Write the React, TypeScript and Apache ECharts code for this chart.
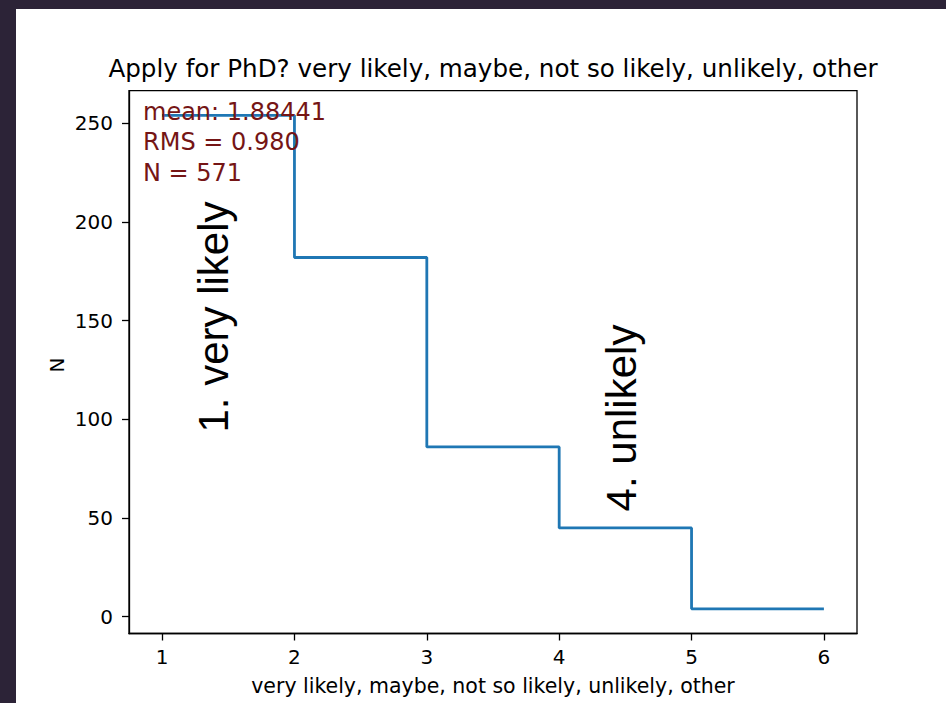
import React, { useEffect, useRef } from "react";
import * as echarts from "echarts";

const binCenters = [1, 2, 3, 4, 5, 6];
const counts = [254, 182, 86, 45, 4, 4];
const xTicks = [1, 2, 3, 4, 5, 6];
const yTicks = [0, 50, 100, 150, 200, 250];
const statLines = ["mean: 1.88441", "RMS = 0.980", "N = 571"];
const titleText = "Apply for PhD? very likely, maybe, not so likely, unlikely, other";
const xName = "very likely, maybe, not so likely, unlikely, other";
const yName = "N";
const note1 = "1. very likely";
const note4 = "4. unlikely";

const FONT = "DejaVu Sans";

export default function App() {
  const ref = useRef<HTMLDivElement>(null);
  useEffect(() => {
    if (!ref.current) return;
    const chart = echarts.init(ref.current, null, { renderer: "svg" });
    const data = binCenters.map((x, i) => [x, counts[i]]);
    chart.setOption({
      animation: false,
      backgroundColor: "#ffffff",
      grid: {
        left: 113,
        top: 81.7,
        right: 89,
        bottom: 69.5,
        show: true,
        borderColor: "#000",
        borderWidth: 1.3,
        backgroundColor: "transparent",
      },
      xAxis: {
        type: "value",
        min: 0.75,
        max: 6.25,
        name: xName,
        nameLocation: "middle",
        nameGap: 42,
        nameTextStyle: { fontFamily: FONT, fontSize: 20.5, color: "#000" },
        axisLine: { show: true, onZero: false, lineStyle: { color: "#000", width: 1.3 } },
        axisTick: { show: true, length: 7, customValues: xTicks, lineStyle: { color: "#000", width: 1.3 } },
        axisLabel: { customValues: xTicks, margin: 13, fontFamily: FONT, fontSize: 20, color: "#000" },
        splitLine: { show: false },
      },
      yAxis: {
        type: "value",
        min: -8.5,
        max: 266.5,
        axisLine: { show: true, onZero: false, lineStyle: { color: "#000", width: 1.3 } },
        axisTick: { show: true, length: 7, customValues: yTicks, lineStyle: { color: "#000", width: 1.3 } },
        axisLabel: { customValues: yTicks, margin: 16, fontFamily: FONT, fontSize: 20, color: "#000" },
        splitLine: { show: false },
      },
      series: [
        {
          type: "line",
          step: "end",
          data,
          symbol: "none",
          lineStyle: { color: "#1f77b4", width: 2.8 },
          z: 2,
        },
      ],
      graphic: [
        {
          type: "text",
          x: 477,
          y: 59,
          style: {
            text: titleText,
            fontFamily: FONT,
            fontSize: 24.6,
            fill: "#000",
            textAlign: "center",
            textVerticalAlign: "middle",
          },
        },
        {
          type: "text",
          x: 41,
          y: 356,
          rotation: Math.PI / 2,
          style: {
            text: yName,
            fontFamily: FONT,
            fontSize: 20,
            fill: "#000",
            textAlign: "center",
            textVerticalAlign: "middle",
          },
        },
        {
          type: "text",
          x: 127,
          y: 87.3,
          z: 10,
          style: {
            text: statLines.join("\n"),
            fontFamily: FONT,
            fontSize: 24,
            lineHeight: 30.7,
            fill: "#751515",
            textAlign: "left",
            textVerticalAlign: "top",
          },
        },
        {
          type: "text",
          x: 197,
          y: 308,
          rotation: Math.PI / 2,
          style: {
            text: note1,
            fontFamily: "Liberation Sans",
            fontSize: 42,
            fill: "#000",
            textAlign: "center",
            textVerticalAlign: "middle",
          },
        },
        {
          type: "text",
          x: 605,
          y: 409,
          rotation: Math.PI / 2,
          style: {
            text: note4,
            fontFamily: "Liberation Sans",
            fontSize: 42,
            fill: "#000",
            textAlign: "center",
            textVerticalAlign: "middle",
          },
        },
      ],
    });
    return () => chart.dispose();
  }, []);
  return (
    <div
      style={{
        position: "fixed",
        left: 0,
        top: 0,
        width: 946,
        height: 703,
        background: "#2c2337",
      }}
    >
      <div
        ref={ref}
        style={{ position: "absolute", left: 16, top: 9, width: 930, height: 694 }}
      />
    </div>
  );
}
